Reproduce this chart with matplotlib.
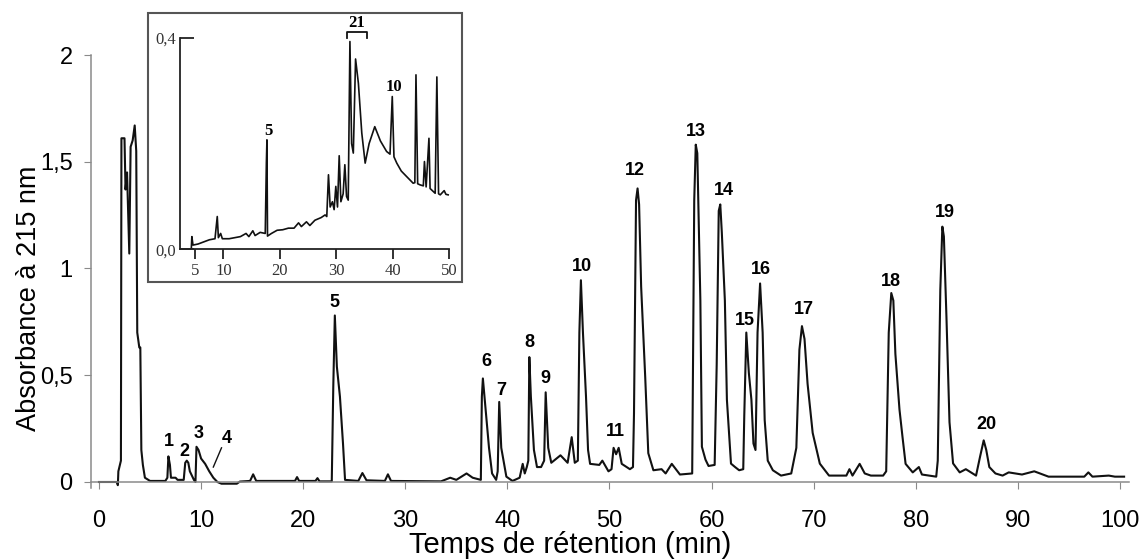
import matplotlib
matplotlib.use("Agg")
import matplotlib.pyplot as plt
from matplotlib.patches import Rectangle

plt.rcParams['font.family'] = ['Liberation Sans', 'DejaVu Sans']

# main chromatogram (time in min, absorbance)
temps = [0, 1.75, 1.85, 1.9, 2.0, 2.15, 2.2, 2.5, 2.6, 2.75, 2.97, 3.1, 3.3, 3.5, 3.65, 3.75, 3.95, 4.05, 4.15, 4.3, 4.5,
         5.0, 6.5, 6.7, 6.8, 6.95, 7.05, 7.5, 7.7, 8.3, 8.45, 8.6, 8.75, 8.9, 9.3, 9.45, 9.55, 9.75, 10.0, 10.4, 10.8,
         11.2, 11.6, 12.0, 13.5, 13.8, 14.8, 15.1, 15.4, 19.2, 19.4, 19.6, 21.2, 21.4, 21.6, 22.8, 22.95, 23.1, 23.3,
         23.6, 23.9, 24.1, 25.4, 25.8, 26.2, 28.0, 28.3, 28.6, 33.5, 34.4, 35.0, 36.0, 36.6, 37.4, 37.5, 37.6, 37.9,
         38.2, 38.5, 38.9, 39.05, 39.2, 39.4, 39.9, 40.5, 41.2, 41.5, 41.7, 41.9, 42.05, 42.15, 42.3, 42.6, 42.9, 43.3,
         43.6, 43.75, 44.0, 44.3, 45.2, 45.9, 46.3, 46.6, 46.9, 47.05, 47.2, 47.4, 47.7, 47.9, 48.1, 49.0, 49.3, 49.9,
         50.2, 50.4, 50.65, 50.9, 51.2, 52.0, 52.3, 52.4, 52.6, 52.75, 52.9, 53.1, 53.5, 53.8, 54.3, 55.1, 55.5, 56.1,
         56.9, 58.1, 58.3, 58.45, 58.6, 58.9, 59.05, 59.4, 59.7, 60.3, 60.5, 60.7, 60.85, 61.0, 61.3, 61.5, 61.9, 62.3,
         62.7, 63.1, 63.2, 63.4, 63.65, 63.9, 64.1, 64.3, 64.5, 64.75, 65.0, 65.2, 65.5, 66.0, 66.8, 67.8, 68.3, 68.6,
         68.85, 69.1, 69.4, 69.9, 70.6, 71.5, 73.2, 73.5, 73.8, 74.5, 75.0, 75.6, 76.8, 77.1, 77.35, 77.6, 77.8, 78.0,
         78.4, 78.7, 79.0, 79.7, 80.3, 80.6, 82.0, 82.15, 82.4, 82.6, 82.75, 83.0, 83.3, 83.65, 84.3, 84.9, 85.9, 86.3,
         86.65, 86.9, 87.2, 87.8, 88.5, 89.1, 90.4, 91.6, 93.0, 96.5, 96.9, 97.3, 98.9, 99.5, 100.4]
absorbance = [0, 0, -0.015, 0.05, 0.07, 0.10, 1.61, 1.61, 1.37, 1.45, 1.07, 1.57, 1.60, 1.67, 1.55, 0.70, 0.63, 0.63, 0.15,
              0.08, 0.02, 0.005, 0.005, 0.02, 0.12, 0.08, 0.02, 0.02, 0.01, 0.01, 0.09, 0.10, 0.09, 0.05, 0.01, 0.0,
              0.165, 0.15, 0.11, 0.085, 0.05, 0.02, 0.0, -0.008, -0.008, 0.002, 0.005, 0.036, 0.005, 0.005, 0.023,
              0.005, 0.005, 0.018, 0.003, 0.003, 0.45, 0.78, 0.54, 0.40, 0.18, 0.01, 0.005, 0.042, 0.008, 0.005, 0.036,
              0.005, 0.003, 0.02, 0.01, 0.04, 0.02, 0.01, 0.40, 0.485, 0.32, 0.16, 0.04, 0.01, 0.05, 0.375, 0.16, 0.025,
              0.005, 0.02, 0.085, 0.04, 0.07, 0.10, 0.585, 0.40, 0.15, 0.07, 0.07, 0.10, 0.42, 0.16, 0.09, 0.125, 0.09,
              0.21, 0.09, 0.10, 0.70, 0.945, 0.70, 0.40, 0.15, 0.085, 0.08, 0.10, 0.05, 0.06, 0.16, 0.13, 0.16, 0.085,
              0.06, 0.07, 0.32, 1.32, 1.375, 1.30, 0.915, 0.49, 0.135, 0.055, 0.06, 0.04, 0.085, 0.035, 0.04, 1.32,
              1.58, 1.54, 0.85, 0.165, 0.105, 0.075, 0.08, 0.55, 1.27, 1.30, 1.17, 0.85, 0.385, 0.086, 0.07, 0.055,
              0.06, 0.31, 0.70, 0.51, 0.385, 0.18, 0.15, 0.70, 0.93, 0.70, 0.29, 0.10, 0.055, 0.03, 0.04, 0.16, 0.62,
              0.73, 0.67, 0.46, 0.23, 0.086, 0.03, 0.03, 0.06, 0.03, 0.085, 0.04, 0.03, 0.03, 0.05, 0.70, 0.885, 0.85,
              0.60, 0.34, 0.21, 0.085, 0.045, 0.07, 0.035, 0.025, 0.10, 0.90, 1.196, 1.15, 0.775, 0.28, 0.087, 0.045,
              0.06, 0.03, 0.12, 0.195, 0.15, 0.07, 0.04, 0.03, 0.045, 0.035, 0.05, 0.025, 0.025, 0.045, 0.025, 0.03,
              0.025, 0.025]

# peak numbers and where their labels sit
pic_noms = ['1', '2', '3', '5', '6', '7', '8', '9', '10', '11', '12', '13', '14', '15', '16', '17', '18', '19', '20']
pic_x = [6.8, 8.4, 9.8, 23.1, 37.9, 39.4, 42.15, 43.75, 47.3, 50.6, 52.5, 58.5, 61.2, 63.3, 64.8, 69.0, 77.6, 82.8, 86.9]
pic_y = [0.19, 0.142, 0.228, 0.84, 0.563, 0.43, 0.652, 0.486, 1.01, 0.235, 1.46, 1.64, 1.365, 0.755, 0.996, 0.81, 0.94,
         1.26, 0.267]

# inset (zoom 0-50 min)
zoom_t = [4.3, 4.4, 4.6, 5.5, 6.5, 7.5, 8.5, 8.9, 9.1, 9.5, 9.8, 11, 12, 13, 14, 14.5, 15.2, 15.6, 16.5, 17.4, 17.6, 17.7,
          17.8, 18.5, 19.5, 20.5, 21.5, 22.5, 23.3, 23.8, 24.7, 25.3, 26.2, 27.3, 28.0, 28.3, 28.6, 28.9, 29.3, 29.6,
          29.9, 30.2, 30.5, 30.8, 31.2, 31.5, 31.8, 32.1, 32.4, 32.7, 33.0, 33.4, 33.9, 34.5, 35.1, 35.8, 36.8, 37.8,
          38.9, 39.5, 39.9, 40.2, 40.7, 41.5, 42.5, 43.6, 43.9, 44.1, 44.4, 44.8, 45.4, 45.6, 45.9, 46.4, 46.6, 46.9,
          47.5, 47.8, 48.1, 48.4, 49.1, 49.4, 49.8]
zoom_abs = [0.0, 0.024, 0.008, 0.010, 0.014, 0.018, 0.020, 0.062, 0.022, 0.030, 0.020, 0.020, 0.022, 0.024, 0.030,
            0.024, 0.035, 0.026, 0.032, 0.030, 0.163, 0.207, 0.025, 0.030, 0.036, 0.037, 0.040, 0.040, 0.050, 0.043,
            0.052, 0.045, 0.055, 0.060, 0.065, 0.062, 0.141, 0.080, 0.090, 0.075, 0.119, 0.080, 0.177, 0.090, 0.105,
            0.160, 0.100, 0.093, 0.393, 0.200, 0.182, 0.360, 0.314, 0.220, 0.163, 0.200, 0.232, 0.205, 0.185, 0.180,
            0.289, 0.175, 0.163, 0.148, 0.137, 0.125, 0.126, 0.330, 0.124, 0.122, 0.120, 0.166, 0.118, 0.210, 0.115,
            0.112, 0.106, 0.326, 0.105, 0.103, 0.111, 0.104, 0.103]

x_ticks = [0, 10, 20, 30, 40, 50, 60, 70, 80, 90, 100]
y_ticks = [0, 0.5, 1, 1.5, 2]
y_ticklabels = ['0', '0,5', '1', '1,5', '2']
zoom_xticks = [5, 10, 20, 30, 40, 50]
zoom_yticks = [0, 0.4]
zoom_yticklabels = ['0,0', '0,4']

grey = '#8a8a8a'
W, H = 1142, 560
fig = plt.figure(figsize=(W / 100, H / 100), dpi=100)

ax = fig.add_axes([90.8 / W, (H - 488.4) / H, 1038.4 / W, 433.4 / H])
ax.plot(temps, absorbance, color='#111111', lw=1.5)
ax.set_xlim(-0.8, 100.9)
ax.set_ylim(-0.03, 2.0)
for s in ['top', 'right']:
    ax.spines[s].set_visible(False)
ax.spines['bottom'].set_position(('data', 0))
ax.spines['left'].set_bounds(-0.03, 2.0)
for s in ['bottom', 'left']:
    ax.spines[s].set_color(grey)
    ax.spines[s].set_linewidth(1.1)
ax.set_xticks(x_ticks)
ax.set_yticks(y_ticks)
ax.set_yticklabels(y_ticklabels)
ax.tick_params(axis='x', direction='out', length=5, color=grey, labelsize=17, pad=15)
ax.tick_params(axis='y', direction='out', length=5, color=grey, labelsize=17, pad=8)

for nom, x, y in zip(pic_noms, pic_x, pic_y):
    ax.text(x, y, nom, ha='center', va='center', fontsize=13, fontweight='bold')
ax.text(12.55, 0.205, '4', ha='center', va='center', fontsize=13, fontweight='bold')
ax.plot([12.0, 11.2], [0.16, 0.07], color='#111111', lw=1)

ax.set_xlabel('Temps de rétention (min)', fontsize=21)
ax.xaxis.set_label_coords(0.4615, -0.099)
ax.set_ylabel('Absorbance à 215 nm', fontsize=19.5)
ax.yaxis.set_label_coords(-0.047, 0.439)

# inset frame
cadre = Rectangle((148 / W, (H - 282) / H), 314 / W, 269 / H, transform=fig.transFigure,
                  facecolor='white', edgecolor='#555555', lw=1.5, zorder=2)
fig.add_artist(cadre)

axi = fig.add_axes([180 / W, (H - 249.3) / H, 281.7 / W, 236.3 / H], zorder=3)
axi.patch.set_alpha(0)
axi.plot(zoom_t, zoom_abs, color='#111111', lw=1.2)
axi.set_xlim(2.3, 52.2)
axi.set_ylim(0, 0.447)
for s in ['top', 'right']:
    axi.spines[s].set_visible(False)
axi.spines['bottom'].set_bounds(2.3, 50)
axi.spines['left'].set_bounds(0, 0.4)
for s in ['bottom', 'left']:
    axi.spines[s].set_color('#222222')
    axi.spines[s].set_linewidth(1.3)
axi.set_xticks(zoom_xticks)
axi.set_yticks(zoom_yticks)
axi.set_yticklabels(zoom_yticklabels)
axi.tick_params(axis='x', direction='out', length=7, width=1.3, color='#222222', pad=3)
axi.tick_params(axis='y', direction='in', length=10, width=1.3, color='#222222', pad=3)
for lab in axi.get_xticklabels() + axi.get_yticklabels():
    lab.set_family(['Liberation Serif', 'DejaVu Serif'])
    lab.set_fontsize(12)
    lab.set_color('#333333')

serif = ['Liberation Serif', 'DejaVu Serif']
axi.text(18.0, 0.223, '5', ha='center', va='center', fontsize=12, fontweight='bold', family=serif)
axi.text(40.2, 0.307, '10', ha='center', va='center', fontsize=12, fontweight='bold', family=serif)
axi.text(33.6, 0.428, '21', ha='center', va='center', fontsize=12, fontweight='bold', family=serif)
axi.plot([31.8, 31.8, 35.4, 35.4], [0.399, 0.412, 0.412, 0.399], color='#111111', lw=1.3, clip_on=False)

fig.savefig('out.png', dpi=100)
